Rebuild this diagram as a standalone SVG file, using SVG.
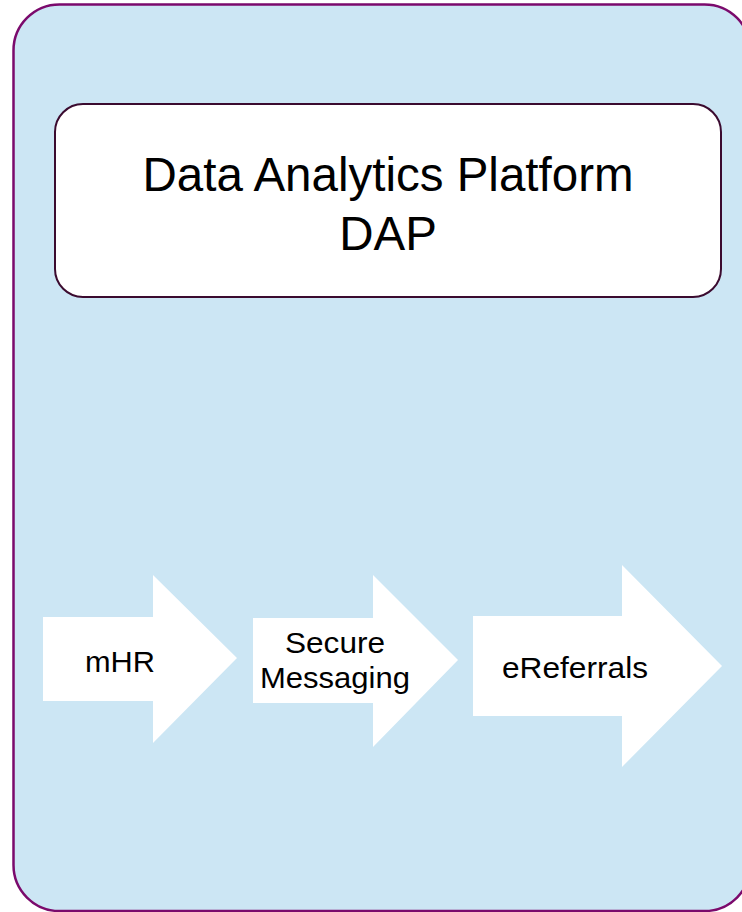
<svg xmlns="http://www.w3.org/2000/svg" width="742" height="912" viewBox="0 0 742 912">
  <style>
    .label { font-family: "Liberation Sans", Arial, sans-serif; fill: #000000; text-anchor: middle; }
    .title { font-size: 47.5px; }
    .step { font-size: 30px; }
    .arrow { fill: #ffffff; stroke: none; }
  </style>

  <!-- background panel -->
  <g id="panel">
    <rect x="13.5" y="4.5" width="737" height="906.5" rx="46" ry="46" fill="#cce6f4" stroke="#7b0a6c" stroke-width="2.5"/>
  </g>

  <!-- platform box -->
  <g id="dap">
    <rect x="55" y="104" width="666" height="193" rx="28" ry="28" fill="#ffffff" stroke="#3b0b2f" stroke-width="2"/>
    <text class="label title" x="388" y="191">Data Analytics Platform</text>
    <text class="label title" x="388" y="250">DAP</text>
  </g>

  <!-- process arrows -->
  <g id="connectors"></g>

  <g id="mhr">
    <polygon class="arrow" points="43,617 153,617 153,575 237,658 153,743 153,701 43,701"/>
    <text class="label step" x="120" y="672" textLength="70" lengthAdjust="spacingAndGlyphs">mHR</text>
  </g>

  <g id="secure-messaging">
    <polygon class="arrow" points="253,618 373,618 373,575 458,660 373,747 373,703 253,703"/>
    <text class="label step" x="335" y="653" textLength="100" lengthAdjust="spacingAndGlyphs">Secure</text>
    <text class="label step" x="335" y="688" textLength="150" lengthAdjust="spacingAndGlyphs">Messaging</text>
  </g>

  <g id="ereferrals">
    <polygon class="arrow" points="473,616 622,616 622,565 722,666 622,767 622,716 473,716"/>
    <text class="label step" x="575" y="678" textLength="146" lengthAdjust="spacingAndGlyphs">eReferrals</text>
  </g>
</svg>
